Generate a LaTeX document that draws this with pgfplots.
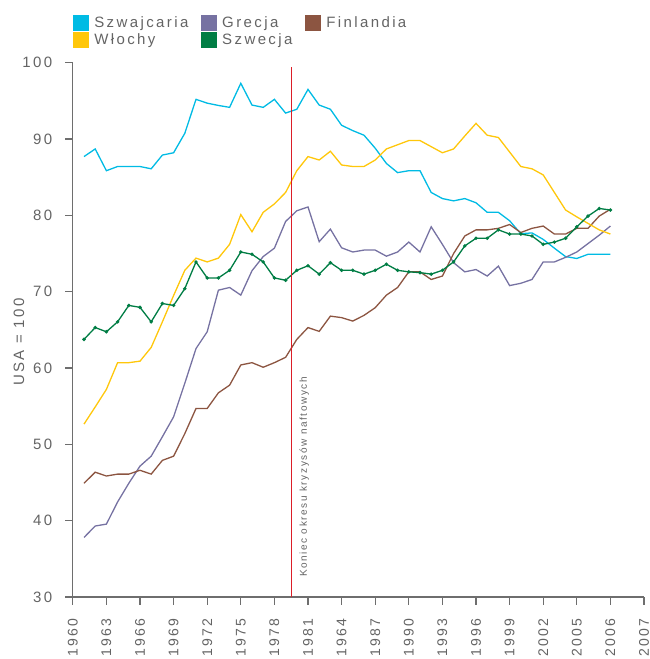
\documentclass[border=0pt]{standalone}
\usepackage{fontspec}
\setmainfont{Liberation Sans}[LetterSpace=16]
\usepackage{pgfplots}
\pgfplotsset{compat=1.18}
\usepackage{pgfplotstable}

\definecolor{chcol}{RGB}{0,187,228}
\definecolor{itcol}{RGB}{255,199,11}
\definecolor{grcol}{RGB}{118,114,162}
\definecolor{ficol}{RGB}{140,85,65}
\definecolor{secol}{RGB}{0,125,68}
\definecolor{kcred}{RGB}{220,30,40}
\definecolor{txtgray}{RGB}{100,100,100}
\definecolor{axisgray}{RGB}{110,110,110}

\pgfplotstableread{
year ch gr fi it se
1961 87.7 37.8 44.9 52.65 63.75
1962 88.7 39.3 46.35 54.9 65.3
1963 85.85 39.55 45.85 57.2 64.75
1964 86.4 42.45 46.1 60.7 66.05
1965 86.4 44.9 46.1 60.7 68.2
1966 86.4 47.15 46.6 60.9 67.95
1967 86.1 48.45 46.1 62.7 66.05
1968 87.9 51.0 47.9 66.05 68.45
1969 88.2 53.6 48.45 69.5 68.2
1970 90.75 58.0 51.4 72.8 70.4
1971 95.2 62.55 54.7 74.4 73.9
1972 94.7 64.75 54.7 73.9 71.8
1973 94.4 70.2 56.75 74.4 71.8
1974 94.15 70.55 57.75 76.2 72.8
1975 97.3 69.55 60.4 80.1 75.2
1976 94.45 72.75 60.7 77.85 74.9
1977 94.15 74.6 60.1 80.4 73.9
1978 95.2 75.7 60.7 81.5 71.8
1979 93.4 79.2 61.4 83.0 71.5
1980 93.9 80.6 63.75 85.85 72.8
1981 96.5 81.1 65.3 87.7 73.4
1982 94.45 76.55 64.8 87.25 72.3
1983 93.9 78.2 66.8 88.4 73.8
1984 91.8 75.75 66.6 86.6 72.8
1985 91.1 75.2 66.15 86.4 72.8
1986 90.5 75.45 66.9 86.4 72.3
1987 88.8 75.45 67.9 87.25 72.8
1988 86.8 74.65 69.55 88.7 73.6
1989 85.6 75.2 70.55 89.25 72.8
1990 85.85 76.5 72.6 89.8 72.6
1991 85.85 75.2 72.6 89.8 72.5
1992 83.0 78.5 71.6 89.0 72.3
1993 82.2 76.2 72.05 88.2 72.8
1994 81.9 73.8 75.0 88.7 73.9
1995 82.2 72.6 77.3 90.4 76.0
1996 81.65 72.9 78.1 92.05 77.0
1997 80.4 72.05 78.1 90.5 77.0
1998 80.4 73.35 78.3 90.2 78.1
1999 79.3 70.8 78.8 88.3 77.55
2000 77.6 71.1 77.75 86.4 77.55
2001 77.7 71.6 78.3 86.1 77.3
2002 76.85 73.9 78.6 85.3 76.2
2003 75.7 73.9 77.55 83.0 76.5
2004 74.6 74.5 77.55 80.7 77.0
2005 74.35 75.2 78.3 79.8 78.5
2006 74.9 76.3 78.3 78.95 79.9
2007 74.9 77.4 79.9 78.1 80.9
2008 74.9 78.6 80.8 77.55 80.7
}\datatable

\begin{document}
\begin{tikzpicture}
\useasboundingbox (-72.8pt,-62pt) rectangle (576.2pt,597pt);
\begin{axis}[
  at={(0pt,0pt)}, anchor=south west,
  scale only axis, width=571.2pt, height=534.3pt,
  xmin=1960, xmax=2011, ymin=30, ymax=100,
  axis x line*=bottom, axis y line*=left,
  axis line style={draw=axisgray, line width=1.1pt},
  xtick={1960,1963,...,2011},
  xticklabels={1960,1963,1966,1969,1972,1975,1978,1981,1964,1987,1990,1993,1996,1999,2002,2005,2006,2007},
  ytick={30,40,...,100},
  tick align=outside, major tick length=7.5pt,
  tick style={draw=axisgray, line width=1.1pt},
  /pgf/number format/assume math mode=true,
  tick label style={font=\fontsize{15}{18}\selectfont, text=txtgray},
  xticklabel style={rotate=90, anchor=east, inner sep=0pt, font=\fontsize{14}{16}\selectfont},
  yticklabel style={inner sep=0pt},
  xticklabel shift=14pt,
  yticklabel shift=13pt,
  ylabel={USA = 100},
  ylabel style={at={(axis description cs:-0.0942,0.477)}, anchor=center, rotate=0, font=\fontsize{15}{18}\selectfont, text=txtgray},
  legend columns=3,
  legend cell align=left,
  legend style={draw=none, fill=none, at={(axis description cs:0,1.0911)}, anchor=north west,
    inner sep=0pt, font=\fontsize{15}{18}\selectfont, text=txtgray,
    nodes={inner sep=2.5pt},
    /tikz/every odd column/.append style={column sep=3pt},
    /tikz/every even column/.append style={column sep=10pt}},
  legend image code/.code={\fill[#1] (0pt,-7.25pt) rectangle (14.5pt,7.25pt);},
  clip=false,
]
\addplot[chcol, line width=1.3pt] table[x=year, y=ch] {\datatable};
\addlegendentry{Szwajcaria}
\addplot[grcol, line width=1.3pt] table[x=year, y=gr] {\datatable};
\addlegendentry{Grecja}
\addplot[ficol, line width=1.3pt] table[x=year, y=fi] {\datatable};
\addlegendentry{Finlandia}
\addplot[itcol, line width=1.3pt] table[x=year, y=it] {\datatable};
\addlegendentry{Włochy}
\addplot[secol, line width=1.3pt, mark=*, mark size=1pt, mark options={solid, fill=secol, draw=secol}] table[x=year, y=se] {\datatable};
\addlegendentry{Szwecja}
\coordinate (rb) at (axis cs:1979.5,30);
\coordinate (rt) at (axis cs:1979.5,99.5);
\node[rotate=90, anchor=west, inner sep=0pt, font=\fontsize{10}{12}\selectfont, text=txtgray] at (axis cs:1980.67,32.6) {Koniec okresu kryzysów naftowych};
\end{axis}
\fill[kcred] ([xshift=-0.7pt]rb) rectangle ([xshift=0.7pt]rt);
\end{tikzpicture}
\end{document}
